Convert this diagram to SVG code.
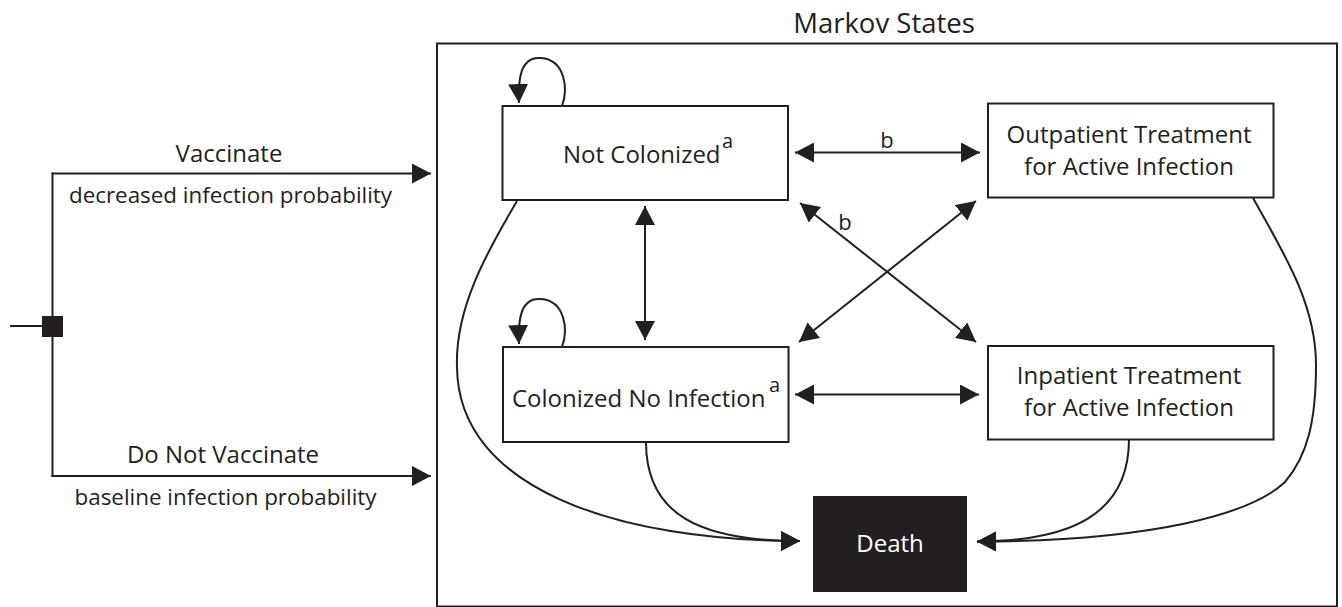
<svg xmlns="http://www.w3.org/2000/svg" width="1342" height="607" viewBox="0 0 1342 607">
<defs>
<style>
text{font-family:"Open Sans","Liberation Sans",sans-serif;fill:#231f20;}
.lbl{font-size:24px;}
.sub{font-size:22.4px;}
.box{fill:#fff;stroke:#231f20;stroke-width:2;}
.ln{fill:none;stroke:#231f20;stroke-width:2;}
.arr{marker-end:url(#ah);}
.dbl{marker-start:url(#ah);marker-end:url(#ah);}
</style>
<marker id="ah" markerUnits="userSpaceOnUse" markerWidth="20" markerHeight="20" viewBox="0 0 20 20" refX="19" refY="10" orient="auto-start-reverse">
<path d="M0,0 L19,10 L0,20 Z" fill="#231f20"/>
</marker>
</defs>
<rect width="1342" height="607" fill="#fff"/>

<g id="frame">
<rect x="437" y="43.5" width="900" height="563" fill="none" stroke="#231f20" stroke-width="2"/>
<text x="884" y="33" text-anchor="middle" style="font-size:27.5px">Markov States</text>
</g>

<g id="decision">
<line class="ln" x1="10" y1="326" x2="42" y2="326"/>
<line class="ln" x1="52.5" y1="172.5" x2="52.5" y2="477"/>
<rect x="42" y="316" width="21" height="21" fill="#231f20"/>
</g>
<g id="branchTop">
<line class="ln arr" x1="51.5" y1="173.5" x2="431" y2="173.5"/>
<text class="lbl" x="229" y="162" text-anchor="middle">Vaccinate</text>
<text class="sub" x="230.5" y="203" text-anchor="middle">decreased infection probability</text>
</g>
<g id="branchBottom">
<line class="ln arr" x1="51.5" y1="476" x2="431" y2="476"/>
<text class="lbl" x="223" y="463" text-anchor="middle">Do Not Vaccinate</text>
<text class="sub" x="225.5" y="505" text-anchor="middle">baseline infection probability</text>
</g>

<g id="connectors">
<path class="ln arr" d="M562,106 C568,90 566,60 541,58 C520,56 518,80 519,103"/>
<path class="ln arr" d="M562,347 C568,331 566,301 541,299 C520,297 518,321 519,344"/>
<line class="ln dbl" x1="795" y1="152.5" x2="980" y2="152.5"/>
<line class="ln dbl" x1="645" y1="206" x2="645" y2="340"/>
<line class="ln dbl" x1="800" y1="203" x2="976" y2="342"/>
<line class="ln dbl" x1="976" y1="201" x2="799" y2="342"/>
<line class="ln dbl" x1="795" y1="394.5" x2="979" y2="394.5"/>
<path class="ln arr" d="M517,201 C485,255 455,310 457,367 C458,490 620,541 800,541"/>
<path class="ln arr" d="M646,442 C646,515 700,541 800,541"/>
<path class="ln arr" d="M1253,198 C1285,255 1316,305 1316,365 C1316,420 1308,455 1285,482 C1250,515 1150,541 977,541.5"/>
<path class="ln arr" d="M1129,439 C1129,515 1070,541 977,541.5"/>
<text x="887" y="148" text-anchor="middle" style="font-size:22px">b</text>
<text x="845" y="230" text-anchor="middle" style="font-size:22px">b</text>
</g>

<g id="notColonized">
<rect class="box" x="502.5" y="106" width="285.5" height="94"/>
<text class="lbl" x="563" y="163">Not Colonized</text>
<text x="722" y="148" style="font-size:20px">a</text>
</g>
<g id="colonized">
<rect class="box" x="503" y="347" width="285.5" height="95"/>
<text class="lbl" x="512" y="407">Colonized No Infection</text>
<text x="769" y="392" style="font-size:20px">a</text>
</g>
<g id="outpatient">
<rect class="box" x="988" y="103.5" width="285.5" height="94"/>
<text class="lbl" x="1129" y="143" text-anchor="middle">Outpatient Treatment</text>
<text class="lbl" x="1129" y="175" text-anchor="middle">for Active Infection</text>
</g>
<g id="inpatient">
<rect class="box" x="988" y="346" width="285.5" height="93.5"/>
<text class="lbl" x="1129" y="384" text-anchor="middle">Inpatient Treatment</text>
<text class="lbl" x="1129" y="416" text-anchor="middle">for Active Infection</text>
</g>
<g id="death">
<rect x="813" y="496" width="154" height="96" fill="#231f20"/>
<text class="lbl" x="890" y="552" text-anchor="middle" style="fill:#fff">Death</text>
</g>
</svg>
